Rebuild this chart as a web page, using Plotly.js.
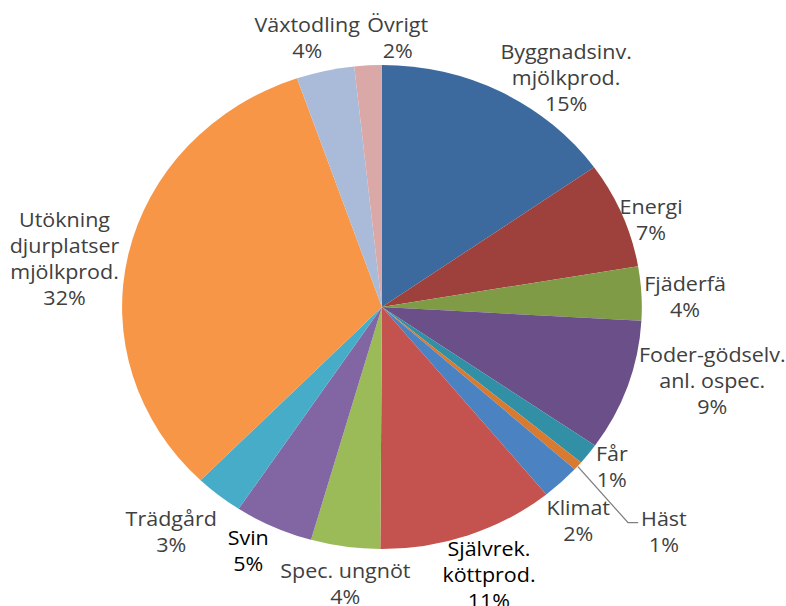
<!DOCTYPE html>
<html>
<head>
<meta charset="utf-8">
<script src="https://cdn.plot.ly/plotly-3.0.1.min.js"></script>
<style>
html,body{margin:0;padding:0;background:#fff;overflow:hidden;}
#wrap{width:786px;height:606px;overflow:hidden;}
#chart{width:732px;height:606px;transform:scaleX(1.0738);transform-origin:0 0;}
</style>
</head>
<body>
<div id="wrap"><div id="chart"></div></div>
<script>
// Data
const categories = [
  "Byggnadsinv.<br>mjölkprod.", "Energi", "Fjäderfä", "Foder-gödselv.<br>anl. ospec.",
  "Får", "Häst", "Klimat", "Självrek.<br>köttprod.", "Spec. ungnöt", "Svin",
  "Trädgård", "Utökning<br>djurplatser<br>mjölkprod.", "Växtodling", "Övrigt"
];
const values = [15.2, 7.1, 3.6, 8.8, 1.4, 0.6, 2.4, 11.0, 4.3, 4.9, 3.0, 32.4, 3.6, 1.7];
const colors = ["#3C6A9F", "#9E413D", "#7F9B46", "#6A4F88", "#318FA6", "#D87B30", "#4A82C2",
                "#C4524E", "#9BBB59", "#8266A4", "#46ACC8", "#F79646", "#A9BBD9", "#DAA8A7"];

// Label placement (pixel positions in the unscaled plot)
const labelX = [527, 606, 638, 663, 570, 618, 538, 455, 321, 231, 159, 60, 286, 371];
const labelY = [77, 219.5, 296.5, 380.5, 466.5, 531.5, 520, 574, 583, 550, 531.5, 258.5, 37, 37];
const labelColor = ["#404040","#404040","#404040","#404040","#404040","#404040","#404040",
                    "#000000","#404040","#000000","#404040","#404040","#404040","#404040"];

const W = 732, H = 606;
const total = values.reduce((a, b) => a + b, 0);

const cx = 355.7, cy = 307, r = 242;

const annotations = categories.map((c, i) => ({
  x: labelX[i] / W, y: 1 - labelY[i] / H, xref: "paper", yref: "paper",
  xanchor: "center", yanchor: "middle", showarrow: false, align: "center",
  text: c + "<br>" + Math.round(values[i] / total * 100) + "%",
  font: {family: "Open Sans, sans-serif", size: 20, color: labelColor[i]}
}));

const trace = {
  type: "pie",
  labels: categories,
  values: values,
  sort: false,
  direction: "clockwise",
  rotation: 0,
  textinfo: "none",
  hoverinfo: "none",
  marker: {colors: colors, line: {width: 0}},
  showlegend: false,
  domain: {x: [(cx - r) / W, (cx + r) / W], y: [1 - (cy + r) / H, 1 - (cy - r) / H]}
};

const layout = {
  width: W, height: H,
  margin: {l: 0, r: 0, t: 0, b: 0},
  paper_bgcolor: "#ffffff",
  showlegend: false,
  annotations: annotations,
  shapes: [{
    type: "path", xref: "paper", yref: "paper",
    path: "M " + (538.2 / W) + "," + (1 - 466.7 / H) + " L " + (584.9 / W) + "," + (1 - 522.7 / H) +
          " L " + (594.3 / W) + "," + (1 - 522.7 / H),
    line: {color: "#7f7f7f", width: 1.2}
  }]
};

Plotly.newPlot("chart", [trace], layout, {staticPlot: true, displayModeBar: false});
</script>
</body>
</html>
